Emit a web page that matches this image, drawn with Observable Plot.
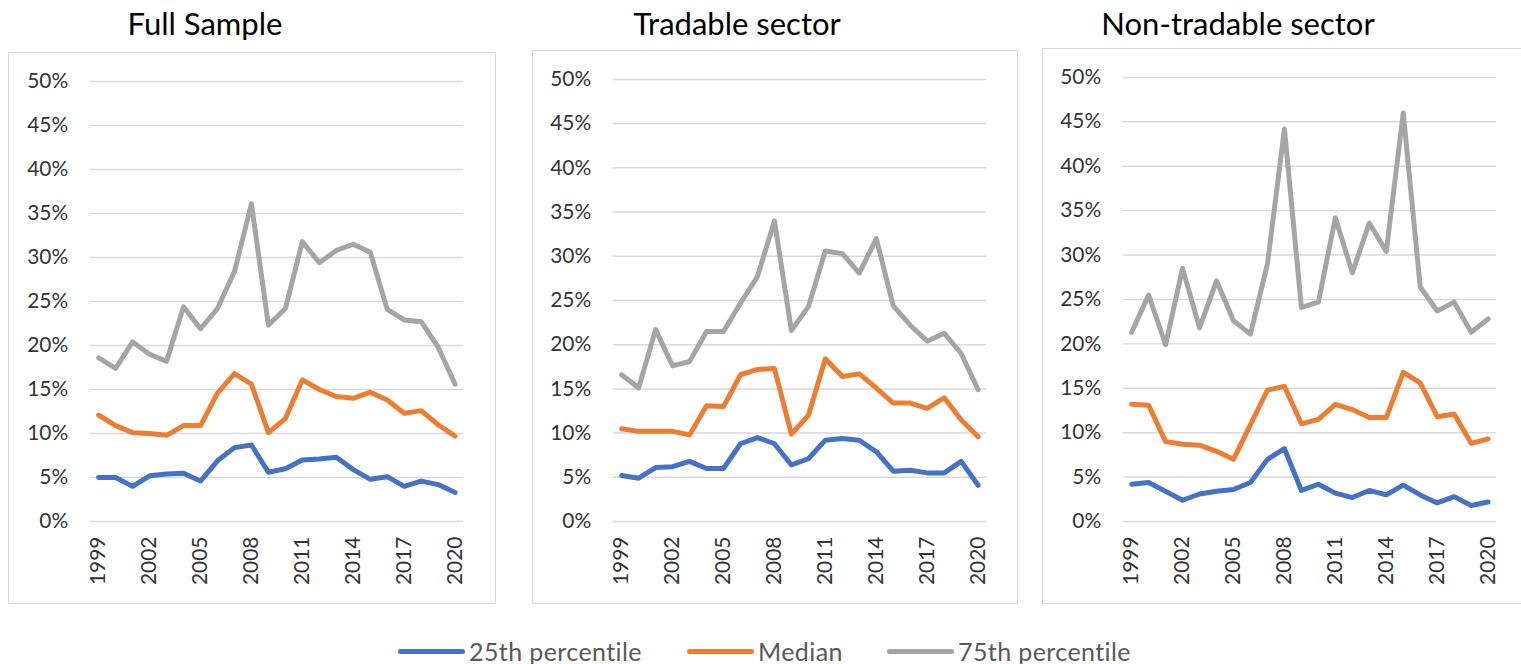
<!DOCTYPE html>
<html>
<head>
<meta charset="utf-8">
<script src="https://cdn.jsdelivr.net/npm/d3@7"></script>
<script src="https://cdn.jsdelivr.net/npm/@observablehq/plot@0.6"></script>
<style>
  html, body { margin: 0; padding: 0; background: #fff; overflow: hidden; }
  #root { position: relative; width: 1521px; height: 664px; overflow: hidden; font-family: Lato, "Open Sans", sans-serif; }
  .panel { position: absolute; box-sizing: border-box; border: 1.5px solid #d9d9d9; }
  .panel svg { display: block; position: absolute; left: -1.5px; top: -1.5px; }
  .title { position: absolute; font-size: 31px; color: #000; white-space: nowrap; transform: translateX(-50%); line-height: 1; }
  .legend-item { position: absolute; top: 639px; height: 24px; display: flex; align-items: center; font-size: 25px; line-height: 1; letter-spacing: 0.4px; color: #595959; white-space: nowrap; }
  .legend-item span { line-height: 1; }
  .swatch { width: 67px; height: 5px; border-radius: 3px; margin-right: 4px; }
</style>
</head>
<body>
<div id="root"></div>
<script>
// ---- Data ----
const years = [1999,2000,2001,2002,2003,2004,2005,2006,2007,2008,2009,2010,2011,2012,2013,2014,2015,2016,2017,2018,2019,2020];
const yearTicks = [1999,2002,2005,2008,2011,2014,2017,2020];
const yTicks = [0,0.05,0.10,0.15,0.20,0.25,0.30,0.35,0.40,0.45,0.50];
const seriesNames = ["25th percentile","Median","75th percentile"];
const seriesColors = ["#4472c4","#ed7d31","#a5a5a5"];
const panelTitles = ["Full Sample","Tradable sector","Non-tradable sector"];

// Full sample (%)
const fullP25    = [5.0,5.0,4.0,5.2,5.4,5.5,4.6,6.9,8.4,8.7,5.6,6.0,7.0,7.1,7.3,5.9,4.8,5.1,4.0,4.6,4.2,3.3];
const fullMedian = [12.1,10.9,10.1,10.0,9.8,10.9,10.9,14.6,16.8,15.6,10.1,11.7,16.1,15.0,14.2,14.0,14.7,13.8,12.3,12.6,11.0,9.7];
const fullP75    = [18.6,17.4,20.4,19.0,18.2,24.4,21.9,24.2,28.4,36.1,22.3,24.2,31.8,29.4,30.8,31.5,30.6,24.1,22.9,22.7,19.8,15.6];

// Tradable sector (%)
const tradP25    = [5.2,4.9,6.1,6.2,6.8,6.0,6.0,8.8,9.5,8.8,6.4,7.1,9.2,9.4,9.2,7.9,5.7,5.8,5.5,5.5,6.8,4.1];
const tradMedian = [10.5,10.2,10.2,10.2,9.8,13.1,13.0,16.6,17.2,17.3,9.9,12.0,18.4,16.4,16.7,15.1,13.4,13.4,12.8,14.0,11.5,9.6];
const tradP75    = [16.6,15.1,21.7,17.6,18.1,21.5,21.5,24.7,27.7,34.0,21.6,24.3,30.6,30.3,28.1,32.0,24.4,22.2,20.4,21.3,19.0,14.9];

// Non-tradable sector (%)
const nonP25     = [4.2,4.4,3.4,2.4,3.1,3.4,3.6,4.4,7.0,8.2,3.5,4.2,3.2,2.7,3.5,3.0,4.1,3.0,2.1,2.8,1.8,2.2];
const nonMedian  = [13.2,13.1,9.0,8.7,8.6,7.9,7.0,10.9,14.8,15.2,11.0,11.5,13.2,12.6,11.7,11.7,16.8,15.6,11.8,12.1,8.8,9.3];
const nonP75     = [21.3,25.5,19.9,28.5,21.8,27.1,22.6,21.1,29.0,44.2,24.1,24.7,34.2,28.0,33.6,30.4,46.0,26.4,23.7,24.7,21.3,22.8];

const panelSeries = [
  [fullP25, fullMedian, fullP75],
  [tradP25, tradMedian, tradP75],
  [nonP25, nonMedian, nonP75]
];

// ---- Layout ----
const layouts = [
  {left: 8,    top: 52, width: 488, height: 552, mt: 29, mb: 81, ml: 82, mr: 31, titleX: 205},
  {left: 532,  top: 50, width: 486, height: 554, mt: 29, mb: 81, ml: 81, mr: 30, titleX: 737},
  {left: 1042, top: 48, width: 486, height: 556, mt: 29, mb: 81, ml: 81, mr: 30, titleX: 1238}
];

const root = document.getElementById("root");

panelSeries.forEach((series, pi) => {
  const L = layouts[pi];
  const rows = [];
  series.forEach((vals, si) => {
    vals.forEach((v, i) => rows.push({year: years[i], value: v / 100, series: seriesNames[si]}));
  });

  const chart = Plot.plot({
    width: L.width,
    height: L.height,
    marginTop: L.mt,
    marginBottom: L.mb,
    marginLeft: L.ml,
    marginRight: L.mr,
    style: {fontFamily: "Lato, sans-serif", fontSize: "21px", color: "#333", background: "transparent", overflow: "visible"},
    x: {domain: [1998.5, 2020.5]},
    y: {domain: [0, 0.5]},
    color: {domain: seriesNames, range: seriesColors},
    marks: [
      Plot.ruleY(yTicks, {stroke: "#d9d9d9", strokeWidth: 1.5}),
      Plot.axisY({ticks: yTicks, tickSize: 0, tickPadding: 22, tickFormat: d3.format(".0%"), label: null, fill: "#333"}),
      Plot.axisX({ticks: yearTicks, tickSize: 0, tickPadding: 15, tickRotate: -90, tickFormat: d => String(d), label: null, fill: "#333"}),
      Plot.line(rows, {x: "year", y: "value", z: "series", stroke: "series", strokeWidth: 5, strokeLinejoin: "round", strokeLinecap: "round"})
    ]
  });

  const panel = document.createElement("div");
  panel.className = "panel";
  panel.style.left = L.left + "px";
  panel.style.top = L.top + "px";
  panel.style.width = L.width + "px";
  panel.style.height = L.height + "px";
  panel.appendChild(chart);
  root.appendChild(panel);

  const title = document.createElement("div");
  title.className = "title";
  title.textContent = panelTitles[pi];
  title.style.left = L.titleX + "px";
  title.style.top = "8px";
  root.appendChild(title);
});

// ---- Legend ----
const legendPos = [398, 687, 887];
seriesNames.forEach((name, i) => {
  const item = document.createElement("div");
  item.className = "legend-item";
  item.style.left = legendPos[i] + "px";
  const sw = document.createElement("div");
  sw.className = "swatch";
  sw.style.background = seriesColors[i];
  const tx = document.createElement("span");
  tx.textContent = name;
  item.appendChild(sw);
  item.appendChild(tx);
  root.appendChild(item);
});
</script>
</body>
</html>
